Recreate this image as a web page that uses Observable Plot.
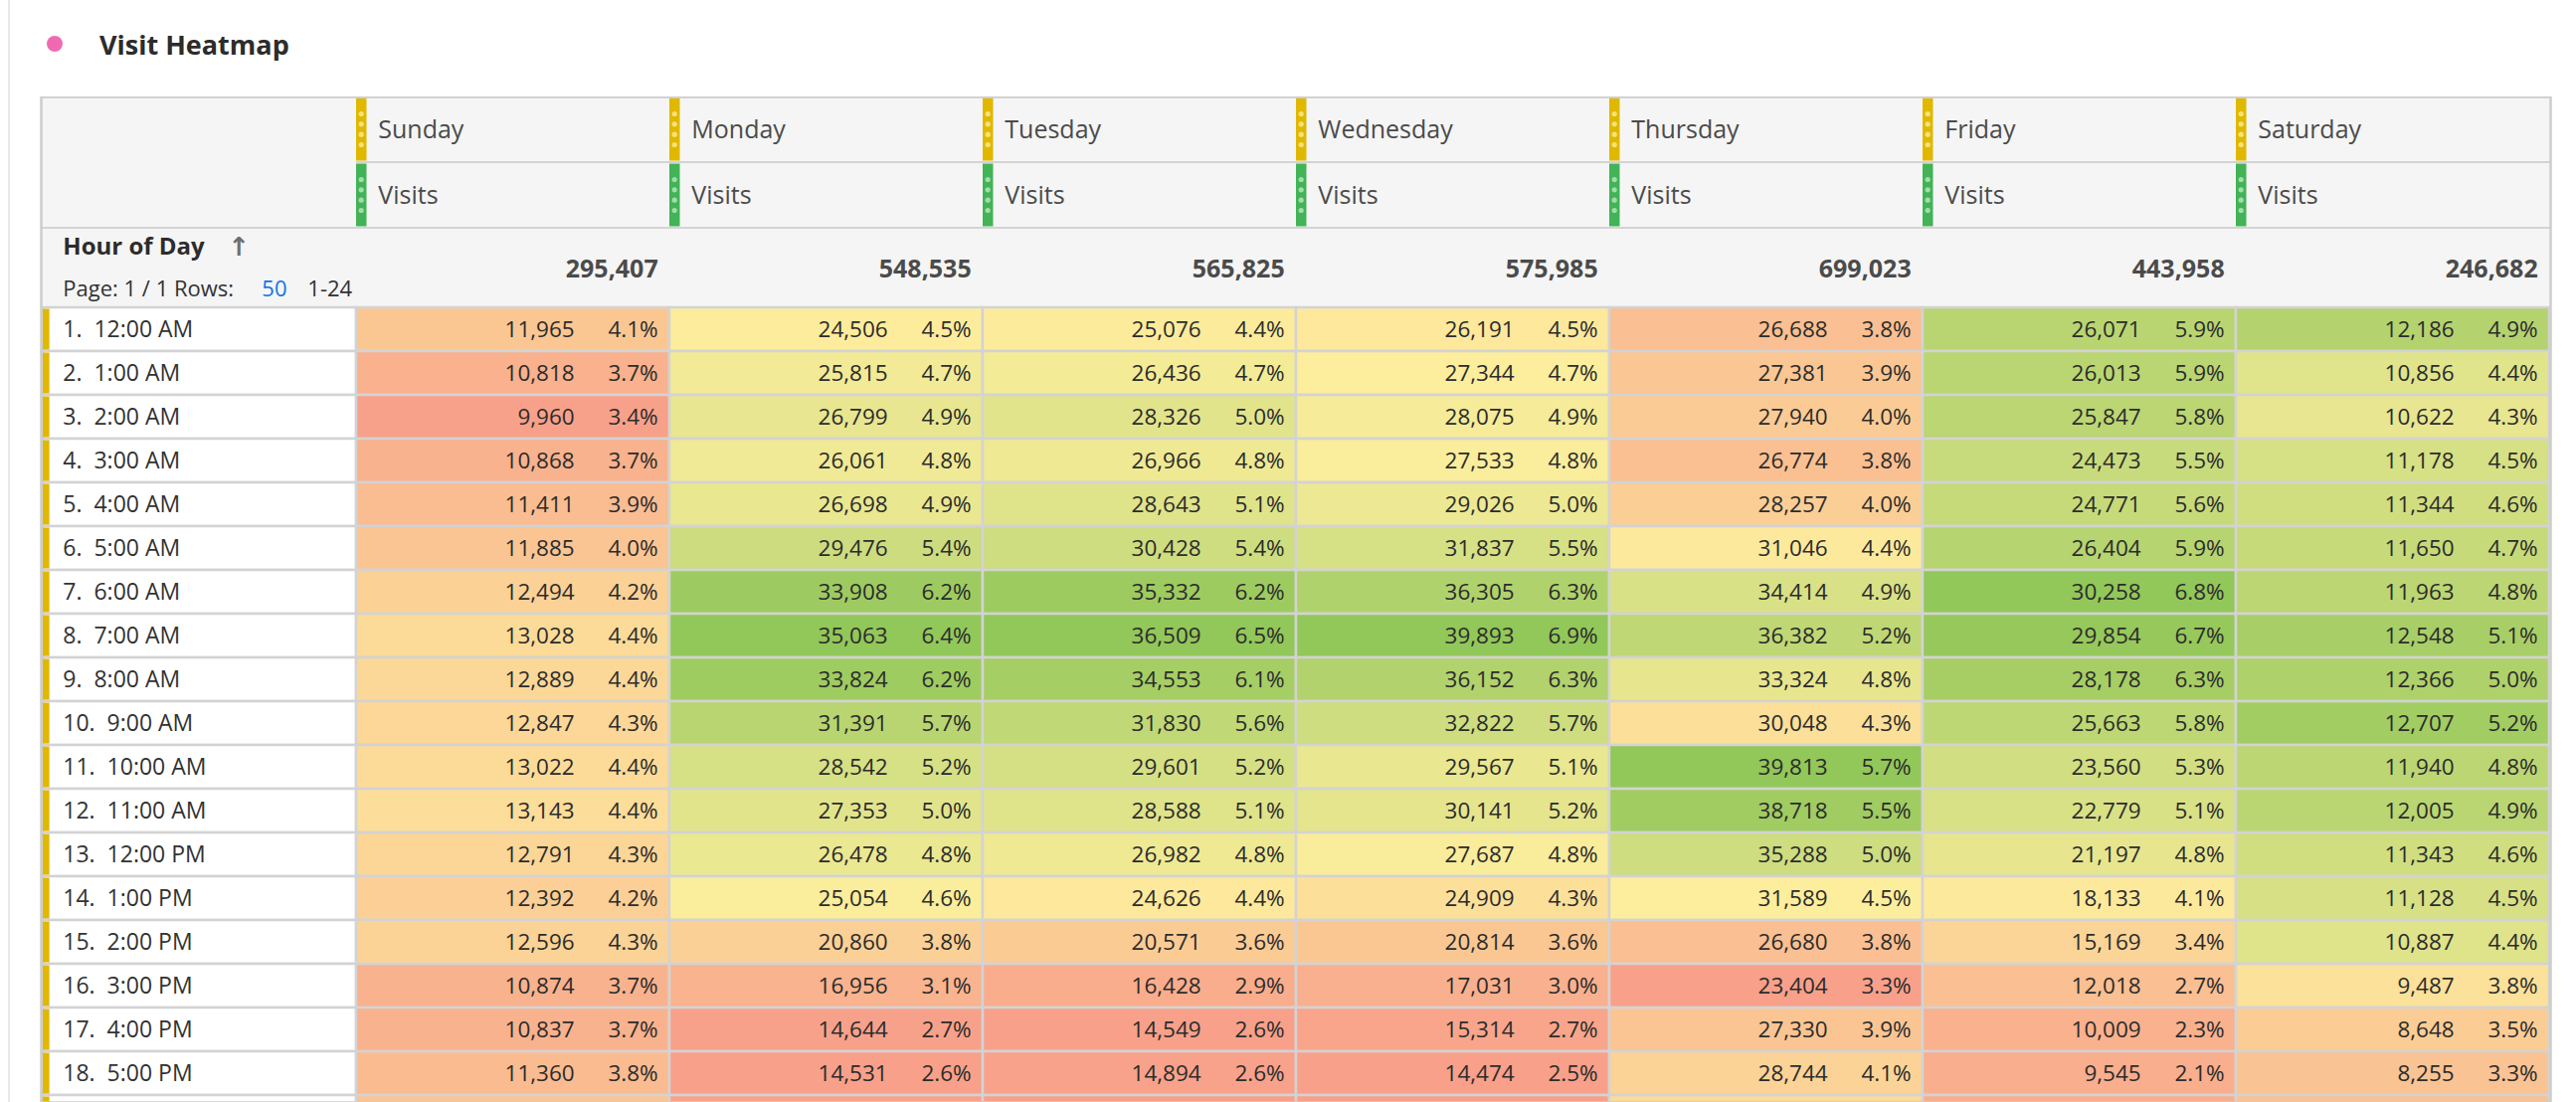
<!DOCTYPE html>
<html>
<head>
<meta charset="utf-8">
<script src="https://cdn.jsdelivr.net/npm/d3@7"></script>
<script src="https://cdn.jsdelivr.net/npm/@observablehq/plot@0.6"></script>
<style>
  html, body { margin: 0; padding: 0; background: #fff; overflow: hidden; }
  #wrap { position: relative; width: 2590px; height: 1108px; overflow: hidden; }
  #rule { position: absolute; left: 8px; top: 0; width: 2px; height: 1108px; background: #e8e8e8; z-index: 2; }
  #head { position: relative; height: 97px; font-family: "Open Sans", sans-serif; }
  #dot { position: absolute; left: 47px; top: 36px; width: 16px; height: 16px; border-radius: 50%; background: #f06ab3; }
  #ttl { position: absolute; left: 100px; top: 31px; font-size: 27px; line-height: 1; font-weight: 700; color: #2c2c2c; white-space: nowrap; }
  #chart svg { display: block; }
</style>
</head>
<body>
<div id="wrap">
  <div id="rule"></div>
  <div id="head"><div id="dot"></div><div id="ttl">Visit Heatmap</div></div>
  <div id="chart"></div>
</div>
<script>
// ---------- data ----------
const days = ["Sunday", "Monday", "Tuesday", "Wednesday", "Thursday", "Friday", "Saturday"];
const hours = ["12:00 AM", "1:00 AM", "2:00 AM", "3:00 AM", "4:00 AM", "5:00 AM", "6:00 AM", "7:00 AM",
  "8:00 AM", "9:00 AM", "10:00 AM", "11:00 AM", "12:00 PM", "1:00 PM", "2:00 PM", "3:00 PM", "4:00 PM",
  "5:00 PM", "6:00 PM"];
const metric = "Visits";
const totals = [295407, 548535, 565825, 575985, 699023, 443958, 246682];

// last row (6:00 PM) is cut off in the picture: only its colour strip shows, values estimated from it
const sunday    = [11965, 10818, 9960, 10868, 11411, 11885, 12494, 13028, 12889, 12847, 13022, 13143, 12791, 12392, 12596, 10874, 10837, 11360, 11800];
const monday    = [24506, 25815, 26799, 26061, 26698, 29476, 33908, 35063, 33824, 31391, 28542, 27353, 26478, 25054, 20860, 16956, 14644, 14531, 14700];
const tuesday   = [25076, 26436, 28326, 26966, 28643, 30428, 35332, 36509, 34553, 31830, 29601, 28588, 26982, 24626, 20571, 16428, 14549, 14894, 14600];
const wednesday = [26191, 27344, 28075, 27533, 29026, 31837, 36305, 39893, 36152, 32822, 29567, 30141, 27687, 24909, 20814, 17031, 15314, 14474, 14600];
const thursday  = [26688, 27381, 27940, 26774, 28257, 31046, 34414, 36382, 33324, 30048, 39813, 38718, 35288, 31589, 26680, 23404, 27330, 28744, 29500];
const friday    = [26071, 26013, 25847, 24473, 24771, 26404, 30258, 29854, 28178, 25663, 23560, 22779, 21197, 18133, 15169, 12018, 10009, 9545, 9400];
const saturday  = [12186, 10856, 10622, 11178, 11344, 11650, 11963, 12548, 12366, 12707, 11940, 12005, 11343, 11128, 10887, 9487, 8648, 8255, 8200];
const series = [sunday, monday, tuesday, wednesday, thursday, friday, saturday];
const visibleRows = 18; // rows whose text is visible in the picture

// per-column conditional-formatting limits (estimated; the column spans 24 hours, not all shown)
const formatLow  = [9900, 14500, 14549, 14474, 23404, 7500, 6800];
const formatHigh = [18200, 35063, 36509, 39893, 39813, 30258, 13200];

const pageInfo = "Page: 1 / 1 Rows:";
const rowsPerPage = "50";
const rowRange = "1-24";

// ---------- table ----------
const cells = [];
days.forEach((day, j) => {
  series[j].forEach((v, i) => {
    cells.push({
      day, hour: hours[i], row: i, value: v, pct: v / totals[j],
      t: Math.max(0, Math.min(1, (v - formatLow[j]) / (formatHigh[j] - formatLow[j])))
    });
  });
});
const textCells = cells.filter(d => d.row < visibleRows);
const textHours = hours.slice(0, visibleRows);

const cols = ["__label", ...days];
const W = 2590, H = 1011;
const L = 41, R = 2564;
const bw = (R - L) / cols.length;
const rowH = 44, dataTop = 212;
const grid = "#d3d3d3";
const fmt = d3.format(",");
const pfmt = d3.format(".1%");

function headerMark(index, scales, values, dims) {
  const g = d3.create("svg:g");
  const x = scales.x;
  const yTop = scales.y(hours[0]);
  const left = dims.marginLeft, right = dims.width - dims.marginRight;
  g.append("rect").attr("x", left).attr("y", 0).attr("width", right - left).attr("height", yTop).attr("fill", "#f5f5f5");
  const line = (x1, x2, y) => g.append("line").attr("x1", x1).attr("x2", x2).attr("y1", y).attr("y2", y)
    .attr("stroke", grid).attr("stroke-width", 2.2);
  line(x(days[0]), right, 66);
  line(left, right, 132);
  line(left, right, yTop);
  for (const d of days) {
    const x0 = x(d);
    [[1.5, 64.5, "#e0b800", "#f6e27a"], [67.5, 130.5, "#42b356", "#a3dcac"]].forEach(([y1, y2, c, dc]) => {
      g.append("rect").attr("x", x0).attr("y", y1).attr("width", 10.5).attr("height", y2 - y1).attr("fill", c);
      const cy = (y1 + y2) / 2;
      [-15.5, -5.2, 5.2, 15.5].forEach(o => g.append("circle").attr("cx", x0 + 5.2).attr("cy", cy + o).attr("r", 2.6).attr("fill", dc));
    });
  }
  return g.node();
}

const font = "'Open Sans', sans-serif";
const topAnchor = { frameAnchor: "top", lineAnchor: "middle" };
const chart = Plot.plot({
  width: W, height: H,
  marginLeft: L, marginRight: W - R, marginTop: 0, marginBottom: 0,
  style: { fontFamily: font, background: "transparent", overflow: "hidden" },
  x: { type: "band", domain: cols, padding: 0, axis: null },
  y: { type: "band", domain: hours, range: [dataTop, dataTop + hours.length * rowH], padding: 0, axis: null },
  color: { type: "linear", domain: [0, 0.5, 1], range: ["#f8a08a", "#fdee9d", "#92c759"], interpolate: "rgb", clamp: true },
  marks: [
    headerMark,
    Plot.cell(hours, { x: () => "__label", y: d => d, fill: "#ffffff", stroke: grid, strokeWidth: 2.5, inset: 0 }),
    Plot.cell(cells, { x: "day", y: "hour", fill: "t", stroke: grid, strokeWidth: 2.5, inset: 0 }),
    Plot.cell(hours, { x: () => "__label", y: d => d, fill: "#e0b800", insetLeft: 0, insetRight: bw - 7, insetTop: 1.5, insetBottom: 1.5 }),
    Plot.frame({ stroke: "#cdcdcd", strokeWidth: 2.5 }),
    // header texts
    Plot.text(days, { ...topAnchor, x: d => d, text: d => d, dy: 33, dx: -bw / 2 + 22, textAnchor: "start", fontSize: 25, fill: "#4b4b4b" }),
    Plot.text(days, { ...topAnchor, x: d => d, text: () => metric, dy: 99, dx: -bw / 2 + 22, textAnchor: "start", fontSize: 25, fill: "#4b4b4b" }),
    Plot.text(days, { ...topAnchor, x: d => d, text: (d, i) => fmt(totals[i]), dy: 173, dx: bw / 2 - 12, textAnchor: "end", fontSize: 25, fontWeight: 700, fill: "#4b4b4b" }),
    Plot.text(["Hour of Day"], { ...topAnchor, x: () => "__label", text: d => d, dy: 151, dx: -bw / 2 + 20, textAnchor: "start", fontSize: 24, fontWeight: 700, fill: "#2c2c2c" }),
    Plot.text(["↑"], { ...topAnchor, x: () => "__label", text: d => d, dy: 151, dx: -bw / 2 + 197, textAnchor: "middle", fontSize: 26, fontWeight: 700, fontFamily: "DejaVu Sans", fill: "#6e6e6e" }),
    Plot.text([pageInfo], { ...topAnchor, x: () => "__label", text: d => d, dy: 193, dx: -bw / 2 + 20, textAnchor: "start", fontSize: 22, fill: "#323232" }),
    Plot.text([rowsPerPage], { ...topAnchor, x: () => "__label", text: d => d, dy: 193, dx: -bw / 2 + 220, textAnchor: "start", fontSize: 22, fill: "#1473e6" }),
    Plot.text([rowRange], { ...topAnchor, x: () => "__label", text: d => d, dy: 193, dx: -bw / 2 + 266, textAnchor: "start", fontSize: 22, fill: "#323232" }),
    // row labels
    Plot.text(textHours, { x: () => "__label", y: d => d, text: (d, i) => `${i + 1}.  ${d}`, dx: -bw / 2 + 20, textAnchor: "start", fontSize: 23, fill: "#323232" }),
    // values
    Plot.text(textCells, { x: "day", y: "hour", text: d => fmt(d.value), dx: bw / 2 - 96, textAnchor: "end", fontSize: 22.5, fill: "#2c2c2c" }),
    Plot.text(textCells, { x: "day", y: "hour", text: d => pfmt(d.pct), dx: bw / 2 - 12, textAnchor: "end", fontSize: 22.5, fill: "#2c2c2c" })
  ]
});
document.getElementById("chart").appendChild(chart);
</script>
</body>
</html>
